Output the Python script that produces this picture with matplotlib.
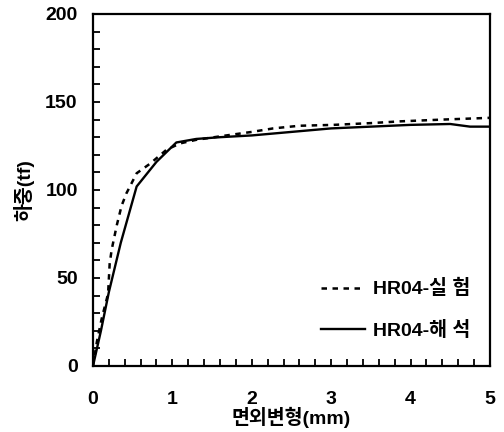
import matplotlib.pyplot as plt
import numpy as np

plt.rcParams['font.family'] = ['Liberation Sans', 'Noto Sans CJK KR', 'DejaVu Sans']
plt.rcParams['font.weight'] = 'bold'

# 실험 (dashed)
exp_x = [0.0, 0.05, 0.11, 0.19, 0.21, 0.235, 0.30, 0.36, 0.42, 0.55, 0.72, 0.93,
         1.1, 1.3, 1.68, 2.0, 2.27, 2.6, 3.03, 3.5, 3.87, 4.4, 5.0]
exp_y = [0.0, 14, 27, 41, 58, 66, 80, 91, 98, 109.5, 115, 123,
         126.5, 128.5, 131, 133, 135, 136.5, 137, 138, 139, 140, 141]

# 해석 (solid)
ana_x = [0.0, 0.1, 0.2, 0.35, 0.55, 0.8, 1.05, 1.3, 1.6, 2.0, 2.5, 3.0,
         3.5, 4.0, 4.5, 4.75, 5.0]
ana_y = [0.0, 20, 42, 70, 102, 116, 127, 129, 130, 131, 133, 135,
         136, 137, 137.5, 136, 136]

fig = plt.figure(figsize=(5.04, 4.32), dpi=100)
ax = fig.add_axes([0.1845, 0.1528, 0.7875, 0.8148])

ax.plot(exp_x, exp_y, color='black', lw=1.8, linestyle=(0, (2.2, 2.2)), label='HR04-실 험')
ax.plot(ana_x, ana_y, color='black', lw=1.7, label='HR04-해 석')

ax.set_xlim(0, 5)
ax.set_ylim(0, 200)
ax.set_xticks(np.arange(0, 6, 1))
ax.set_yticks(np.arange(0, 201, 50))
ax.set_xticks(np.arange(0, 5.01, 0.2), minor=True)
ax.set_yticks(np.arange(0, 201, 10), minor=True)

for s in ax.spines.values():
    s.set_linewidth(1.6)

ax.tick_params(axis='x', which='both', direction='in', length=5, width=1.3, pad=18,
               labelsize=14, top=False)
ax.tick_params(axis='y', which='both', direction='in', length=5, width=1.3, pad=11,
               labelsize=14, right=False)

ax.set_xlabel('면외변형(mm)', fontsize=14, fontweight='bold', labelpad=-1)
ax.set_ylabel('하중(tf)', fontsize=14, fontweight='bold', labelpad=8)

ax.legend(loc='lower right', bbox_to_anchor=(0.995, 0.025), frameon=False,
          handlelength=2.3, handletextpad=0.4, labelspacing=1.15, fontsize=14)

fig.savefig('out.png', dpi=100)
